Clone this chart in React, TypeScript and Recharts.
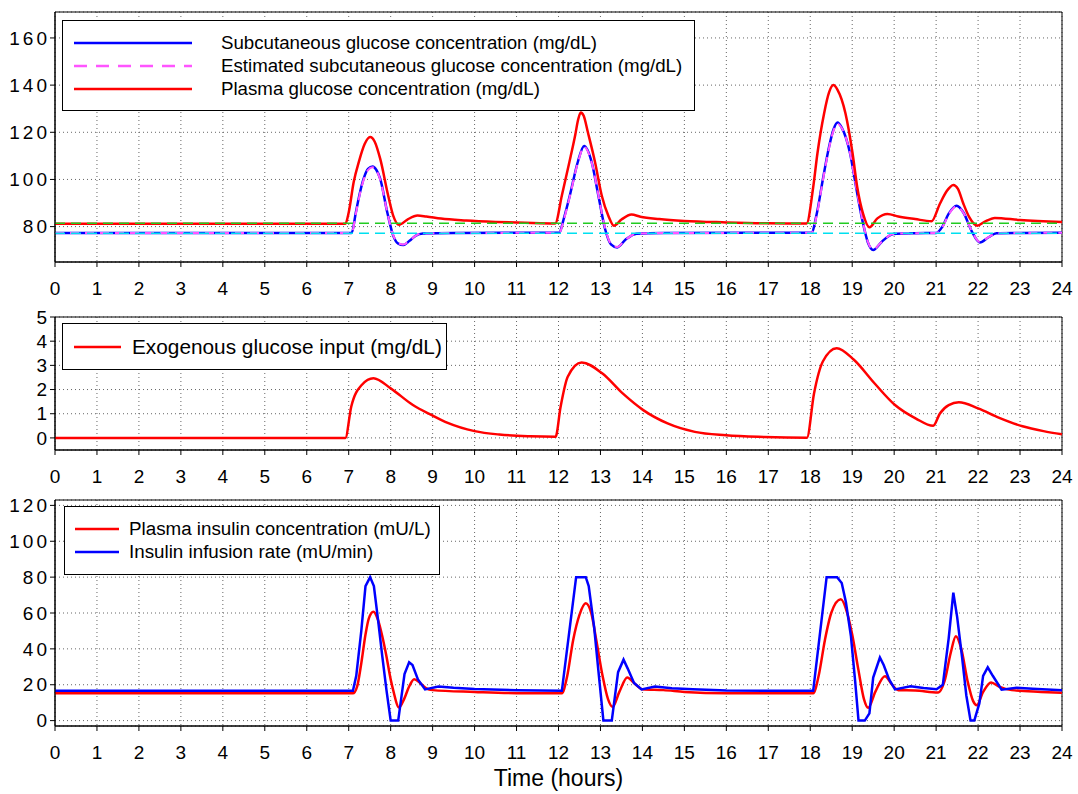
import { LineChart, Line, XAxis, YAxis, CartesianGrid, ReferenceLine, ReferenceArea, Legend } from "recharts";

// Hours shown on every x axis.
const HOURS = [0, 1, 2, 3, 4, 5, 6, 7, 8, 9, 10, 11, 12, 13, 14, 15, 16, 17, 18, 19, 20, 21, 22, 23, 24];

// Panel 1 ticks and basal levels.
const GLUCOSE_TICKS = [80, 100, 120, 140, 160];
const PLASMA_BASAL = 81.4;
const SUBCUT_BASAL = 77.2;

// Plasma glucose (mg/dL)
const plasmaT = [0, 6.92, 7.0, 7.12, 7.25, 7.38, 7.51, 7.62, 7.75, 7.94, 8.06, 8.2, 8.4, 8.64, 8.85, 9.2, 9.8, 10.5, 11.2, 11.92, 12.08, 12.26, 12.4, 12.47, 12.53, 12.6, 12.7, 12.87, 13.03, 13.19, 13.32, 13.5, 13.74, 13.95, 14.4, 15, 16, 17, 17.91, 18.07, 18.17, 18.33, 18.45, 18.55, 18.65, 18.84, 19.01, 19.12, 19.26, 19.41, 19.6, 19.84, 20.1, 20.5, 20.89, 21.09, 21.25, 21.41, 21.52, 21.65, 21.79, 21.98, 22.15, 22.4, 23.0, 24];
const plasmaG = [81.2, 81.2, 86, 99, 108, 115, 118, 116, 108.8, 93.2, 84.7, 80.8, 83, 84.7, 84.3, 83.4, 82.6, 82, 81.6, 81.3, 93.2, 107.4, 119, 125.5, 128.4, 127, 120, 107.4, 93.2, 84.5, 80.4, 83, 85.1, 84.2, 83.2, 82.4, 81.8, 81.4, 81.3, 96.7, 110.9, 128, 137, 140, 138, 128, 110.9, 96.7, 85.4, 79.7, 83.5, 85.4, 84.3, 83.2, 82.3, 89.7, 95, 97.7, 96, 89.7, 84, 80.4, 82, 83.7, 82.8, 82];

// Subcutaneous glucose, measured and estimated (mg/dL)
const subT = [0, 7.07, 7.17, 7.25, 7.35, 7.46, 7.57, 7.66, 7.75, 7.92, 8.06, 8.18, 8.3, 8.45, 8.6, 8.77, 9.5, 12.02, 12.12, 12.27, 12.46, 12.61, 12.79, 12.95, 13.11, 13.25, 13.4, 13.6, 13.86, 14.5, 18.03, 18.15, 18.3, 18.45, 18.56, 18.65, 18.75, 18.95, 19.1, 19.25, 19.37, 19.5, 19.7, 19.98, 20.5, 21.0, 21.15, 21.3, 21.49, 21.65, 21.85, 22.04, 22.25, 22.44, 23, 24];
const subG = [77.3, 77.3, 86, 93, 100, 104.5, 105.5, 104, 100.3, 86, 76.2, 72.8, 72.2, 74, 76.2, 77.1, 77.3, 77.4, 83, 93.2, 107.4, 114.2, 107.4, 93.2, 79, 72.5, 71.2, 74.5, 77, 77.3, 77.4, 85, 100, 114, 121.5, 124.1, 122, 111, 96, 82, 73.5, 70.1, 73.5, 76.9, 77.2, 77.3, 80, 85.5, 88.9, 86, 78, 73.3, 75.5, 77.2, 77.3, 77.4];
const estG = [77.3, 77.3, 85.5, 92.5, 99.5, 104, 105.2, 103.8, 100, 86, 76.4, 73, 72.4, 74, 76.2, 77.1, 77.3, 77.4, 82.5, 92.8, 107, 113.8, 107.2, 93.4, 79.3, 72.7, 71.4, 74.5, 77, 77.3, 77.4, 84.5, 99.5, 113.5, 121, 123.6, 121.8, 111, 96.2, 82.3, 73.7, 70.3, 73.5, 76.9, 77.2, 77.3, 79.8, 85.2, 88.6, 85.9, 78.1, 73.5, 75.5, 77.2, 77.3, 77.4];

// Exogenous glucose input (mg/dL)
const exoT = [0, 6.92, 7.06, 7.31, 7.59, 8.0, 8.53, 8.98, 9.36, 10.0, 10.59, 11.32, 11.93, 12.05, 12.22, 12.55, 13.04, 13.53, 14.02, 14.6, 15.25, 15.99, 16.9, 17.92, 18.09, 18.3, 18.63, 19.04, 19.53, 20.02, 20.52, 20.93, 21.09, 21.3, 21.54, 22.0, 22.49, 23.06, 23.56, 24];
const exoG = [0, 0, 1.29, 2.19, 2.47, 2.05, 1.36, 0.94, 0.62, 0.28, 0.14, 0.07, 0.05, 1.29, 2.53, 3.12, 2.67, 1.84, 1.15, 0.6, 0.25, 0.11, 0.04, 0.01, 1.84, 3.16, 3.71, 3.23, 2.26, 1.36, 0.8, 0.5, 1.01, 1.36, 1.47, 1.22, 0.84, 0.48, 0.28, 0.15];

// Insulin infusion rate (mU/min)
const infT = [0, 7.1, 7.18, 7.3, 7.4, 7.51, 7.6, 7.7, 7.8, 7.9, 8.0, 8.18, 8.33, 8.44, 8.52, 8.65, 8.82, 9.14, 9.5, 10, 11, 12.08, 12.42, 12.65, 12.72, 12.85, 12.95, 13.07, 13.27, 13.42, 13.55, 13.65, 13.8, 13.98, 14.3, 14.7, 15.2, 16, 18.07, 18.39, 18.64, 18.75, 18.85, 18.97, 19.07, 19.15, 19.3, 19.41, 19.5, 19.66, 19.75, 19.88, 20.02, 20.39, 20.7, 21.01, 21.16, 21.3, 21.41, 21.5, 21.62, 21.72, 21.82, 21.91, 22.03, 22.12, 22.23, 22.35, 22.56, 22.92, 23.3, 24];
const infR = [16.6, 16.6, 25, 50, 75, 80, 75, 56, 36, 17, 0, 0, 26, 32.5, 31, 23, 17.4, 19, 18.3, 17.6, 17, 16.6, 80, 80, 75, 52, 28, 0, 0, 27, 34, 29, 21, 17.4, 19, 18, 17.5, 16.8, 16.6, 80, 80, 76.7, 66, 47, 22, 0, 0, 4, 24, 35.2, 31, 23, 17.4, 19.2, 18.2, 17.5, 20, 46, 71.3, 58, 35, 14, 0, 0, 9.6, 25, 29.7, 25, 17.2, 18.3, 17.8, 17];

// Plasma insulin concentration (mU/L)
const insT = [0, 7.1, 7.2, 7.3, 7.4, 7.48, 7.59, 7.7, 7.8, 7.89, 8.0, 8.06, 8.2, 8.32, 8.44, 8.56, 8.7, 8.85, 9.0, 10, 11, 12.08, 12.2, 12.35, 12.5, 12.65, 12.78, 12.9, 13.05, 13.18, 13.29, 13.45, 13.64, 13.8, 14.0, 14.5, 15, 16, 18.07, 18.2, 18.35, 18.5, 18.73, 18.88, 19.0, 19.15, 19.28, 19.38, 19.55, 19.78, 19.95, 20.1, 20.5, 21.05, 21.2, 21.35, 21.47, 21.6, 21.75, 21.88, 21.97, 22.12, 22.31, 22.5, 22.8, 23.5, 24];
const insC = [15.2, 15.2, 19, 32, 48, 57, 60.7, 56, 47, 37, 23, 17, 7.3, 12, 19, 23.1, 21, 18, 17, 16, 15.3, 15.2, 24, 45, 59, 65.4, 60, 45, 25, 12, 7.7, 16, 24.1, 21, 17.5, 17, 16, 15.2, 15.2, 25, 45, 60, 67.6, 60, 48, 28, 12, 7.2, 16, 24.8, 20, 17, 16.8, 15.7, 22, 38, 47.1, 40, 22, 11, 8.6, 16, 21.3, 19, 17, 16, 15.5];

const FONT = "'Liberation Sans', Arial, sans-serif";
const RED = "#ff0000";
const BLUE = "#0000ff";
const MAGENTA = "#ff55ff";

const toPoints = (t: number[], v: number[]) => t.map((x, i) => ({ t: x, v: v[i] }));

type LegendRow = { label: string; color: string; dash?: string; y: number };

function BoxLegend({ rows, width, height, x1, x2, textX, fontSize }: { rows: LegendRow[]; width: number; height: number; x1: number; x2: number; textX: number; fontSize: number }) {
  return (
    <div style={{ position: "relative", width, height, border: "1px solid #000", boxSizing: "border-box", background: "#fff", fontFamily: FONT, fontSize, color: "#000" }}>
      {rows.map((r) => (
        <div key={r.label} style={{ position: "absolute", left: 0, top: r.y - 13, width: "100%", height: 26 }}>
          <svg style={{ position: "absolute", left: x1, top: 0 }} width={x2 - x1} height={26}>
            <line x1={0} y1={13} x2={x2 - x1} y2={13} stroke={r.color} strokeWidth={2.5} strokeDasharray={r.dash} />
          </svg>
          <span style={{ position: "absolute", left: textX, top: 0, lineHeight: "26px", whiteSpace: "nowrap" }}>{r.label}</span>
        </div>
      ))}
    </div>
  );
}

const xTickStyle = { fontSize: 19, fill: "#000" };
// y labels in the source are set wider than the x labels
const yTickStyle = { fontSize: 19, fill: "#000", letterSpacing: 3 };

export default function App() {
  const plasma = toPoints(plasmaT, plasmaG);
  const subcut = toPoints(subT, subG);
  const estimated = toPoints(subT, estG);
  const exo = toPoints(exoT, exoG);
  const infusion = toPoints(infT, infR);
  const insulin = toPoints(insT, insC);

  const xAxisProps = {
    type: "number" as const,
    dataKey: "t",
    domain: [0, 24],
    ticks: HOURS,
    interval: 0 as const,
    tick: xTickStyle,
    tickSize: 5,
    tickMargin: 15,
    axisLine: { stroke: "#000" },
    tickLine: { stroke: "#000" },
    allowDataOverflow: true,
  };
  const yAxisProps = {
    type: "number" as const,
    width: 45,
    tick: yTickStyle,
    tickSize: 5,
    tickMargin: 0,
    interval: 0 as const,
    axisLine: { stroke: "#000" },
    tickLine: { stroke: "#000" },
    allowDataOverflow: true,
  };
  const lineProps = { dot: false, activeDot: false, isAnimationActive: false, dataKey: "v" };

  return (
    <div style={{ position: "absolute", left: 0, top: 0, width: 1078, height: 794, background: "#fff", fontFamily: FONT }}>
      {/* Panel 1: glucose concentrations */}
      <div style={{ position: "absolute", left: 0, top: 0 }}>
        <LineChart width={1078} height={300} margin={{ top: 12, right: 16, left: 10, bottom: 8 }}>
          <CartesianGrid stroke="#666" strokeDasharray="1 3" />
          <XAxis {...xAxisProps} height={30} />
          <YAxis {...yAxisProps} domain={[65, 171]} ticks={GLUCOSE_TICKS} />
          <ReferenceArea x1={0} x2={24} y1={65} y2={171} fill="none" stroke="#000" />
          <Line {...lineProps} data={subcut} type="monotone" stroke={BLUE} strokeWidth={2.5} />
          <Line {...lineProps} data={estimated} type="monotone" stroke={MAGENTA} strokeWidth={2} strokeDasharray="9 6" />
          <Line {...lineProps} data={plasma} type="monotone" stroke={RED} strokeWidth={2.5} />
          <ReferenceLine y={PLASMA_BASAL} stroke="#22cc22" strokeWidth={1.5} strokeDasharray="10 6" />
          <ReferenceLine y={SUBCUT_BASAL} stroke="#00e0f0" strokeWidth={1.5} strokeDasharray="10 6" />
          <Legend
            layout="horizontal"
            verticalAlign="middle"
            align="center"
            wrapperStyle={{ left: 62, top: 20, width: 633, height: 91 }}
            content={() => (
              <BoxLegend
                width={633}
                height={91}
                x1={11}
                x2={129}
                textX={158}
                fontSize={18.7}
                rows={[
                  { label: "Subcutaneous glucose concentration (mg/dL)", color: BLUE, y: 22 },
                  { label: "Estimated subcutaneous glucose concentration (mg/dL)", color: MAGENTA, dash: "13 9", y: 45 },
                  { label: "Plasma glucose concentration (mg/dL)", color: RED, y: 68 },
                ]}
              />
            )}
          />
        </LineChart>
      </div>

      {/* Panel 2: exogenous glucose input */}
      <div style={{ position: "absolute", left: 0, top: 300 }}>
        <LineChart width={1078} height={190} margin={{ top: 17, right: 16, left: 10, bottom: 10 }}>
          <CartesianGrid stroke="#666" strokeDasharray="1 3" />
          <XAxis {...xAxisProps} height={30} />
          <YAxis {...yAxisProps} domain={[-0.5, 5]} ticks={[0, 1, 2, 3, 4, 5]} />
          <ReferenceArea x1={0} x2={24} y1={-0.5} y2={5} fill="none" stroke="#000" />
          <Line {...lineProps} data={exo} type="monotone" stroke={RED} strokeWidth={2.5} />
          <Legend
            layout="horizontal"
            verticalAlign="middle"
            align="center"
            wrapperStyle={{ left: 62, top: 23, width: 385, height: 47 }}
            content={() => (
              <BoxLegend
                width={385}
                height={47}
                x1={11}
                x2={58}
                textX={69}
                fontSize={20.8}
                rows={[{ label: "Exogenous glucose input (mg/dL)", color: RED, y: 23 }]}
              />
            )}
          />
        </LineChart>
      </div>

      {/* Panel 3: insulin */}
      <div style={{ position: "absolute", left: 0, top: 490 }}>
        <LineChart width={1078} height={304} margin={{ top: 10, right: 16, left: 10, bottom: 4 }}>
          <CartesianGrid stroke="#666" strokeDasharray="1 3" />
          <XAxis
            {...xAxisProps}
            height={64}
            label={{ value: "Time (hours)", position: "insideBottom", offset: 4, fontSize: 23, fill: "#000" }}
          />
          <YAxis {...yAxisProps} domain={[-3, 123]} ticks={[0, 20, 40, 60, 80, 100, 120]} />
          <ReferenceArea x1={0} x2={24} y1={-3} y2={123} fill="none" stroke="#000" />
          <Line {...lineProps} data={insulin} type="monotone" stroke={RED} strokeWidth={2.5} />
          <Line {...lineProps} data={infusion} type="linear" stroke={BLUE} strokeWidth={2.5} />
          <Legend
            layout="horizontal"
            verticalAlign="middle"
            align="center"
            wrapperStyle={{ left: 64, top: 16, width: 376, height: 69 }}
            content={() => (
              <BoxLegend
                width={376}
                height={69}
                x1={10}
                x2={54}
                textX={64}
                fontSize={18.8}
                rows={[
                  { label: "Plasma insulin concentration (mU/L)", color: RED, y: 22 },
                  { label: "Insulin infusion rate (mU/min)", color: BLUE, y: 45 },
                ]}
              />
            )}
          />
        </LineChart>
      </div>
    </div>
  );
}
